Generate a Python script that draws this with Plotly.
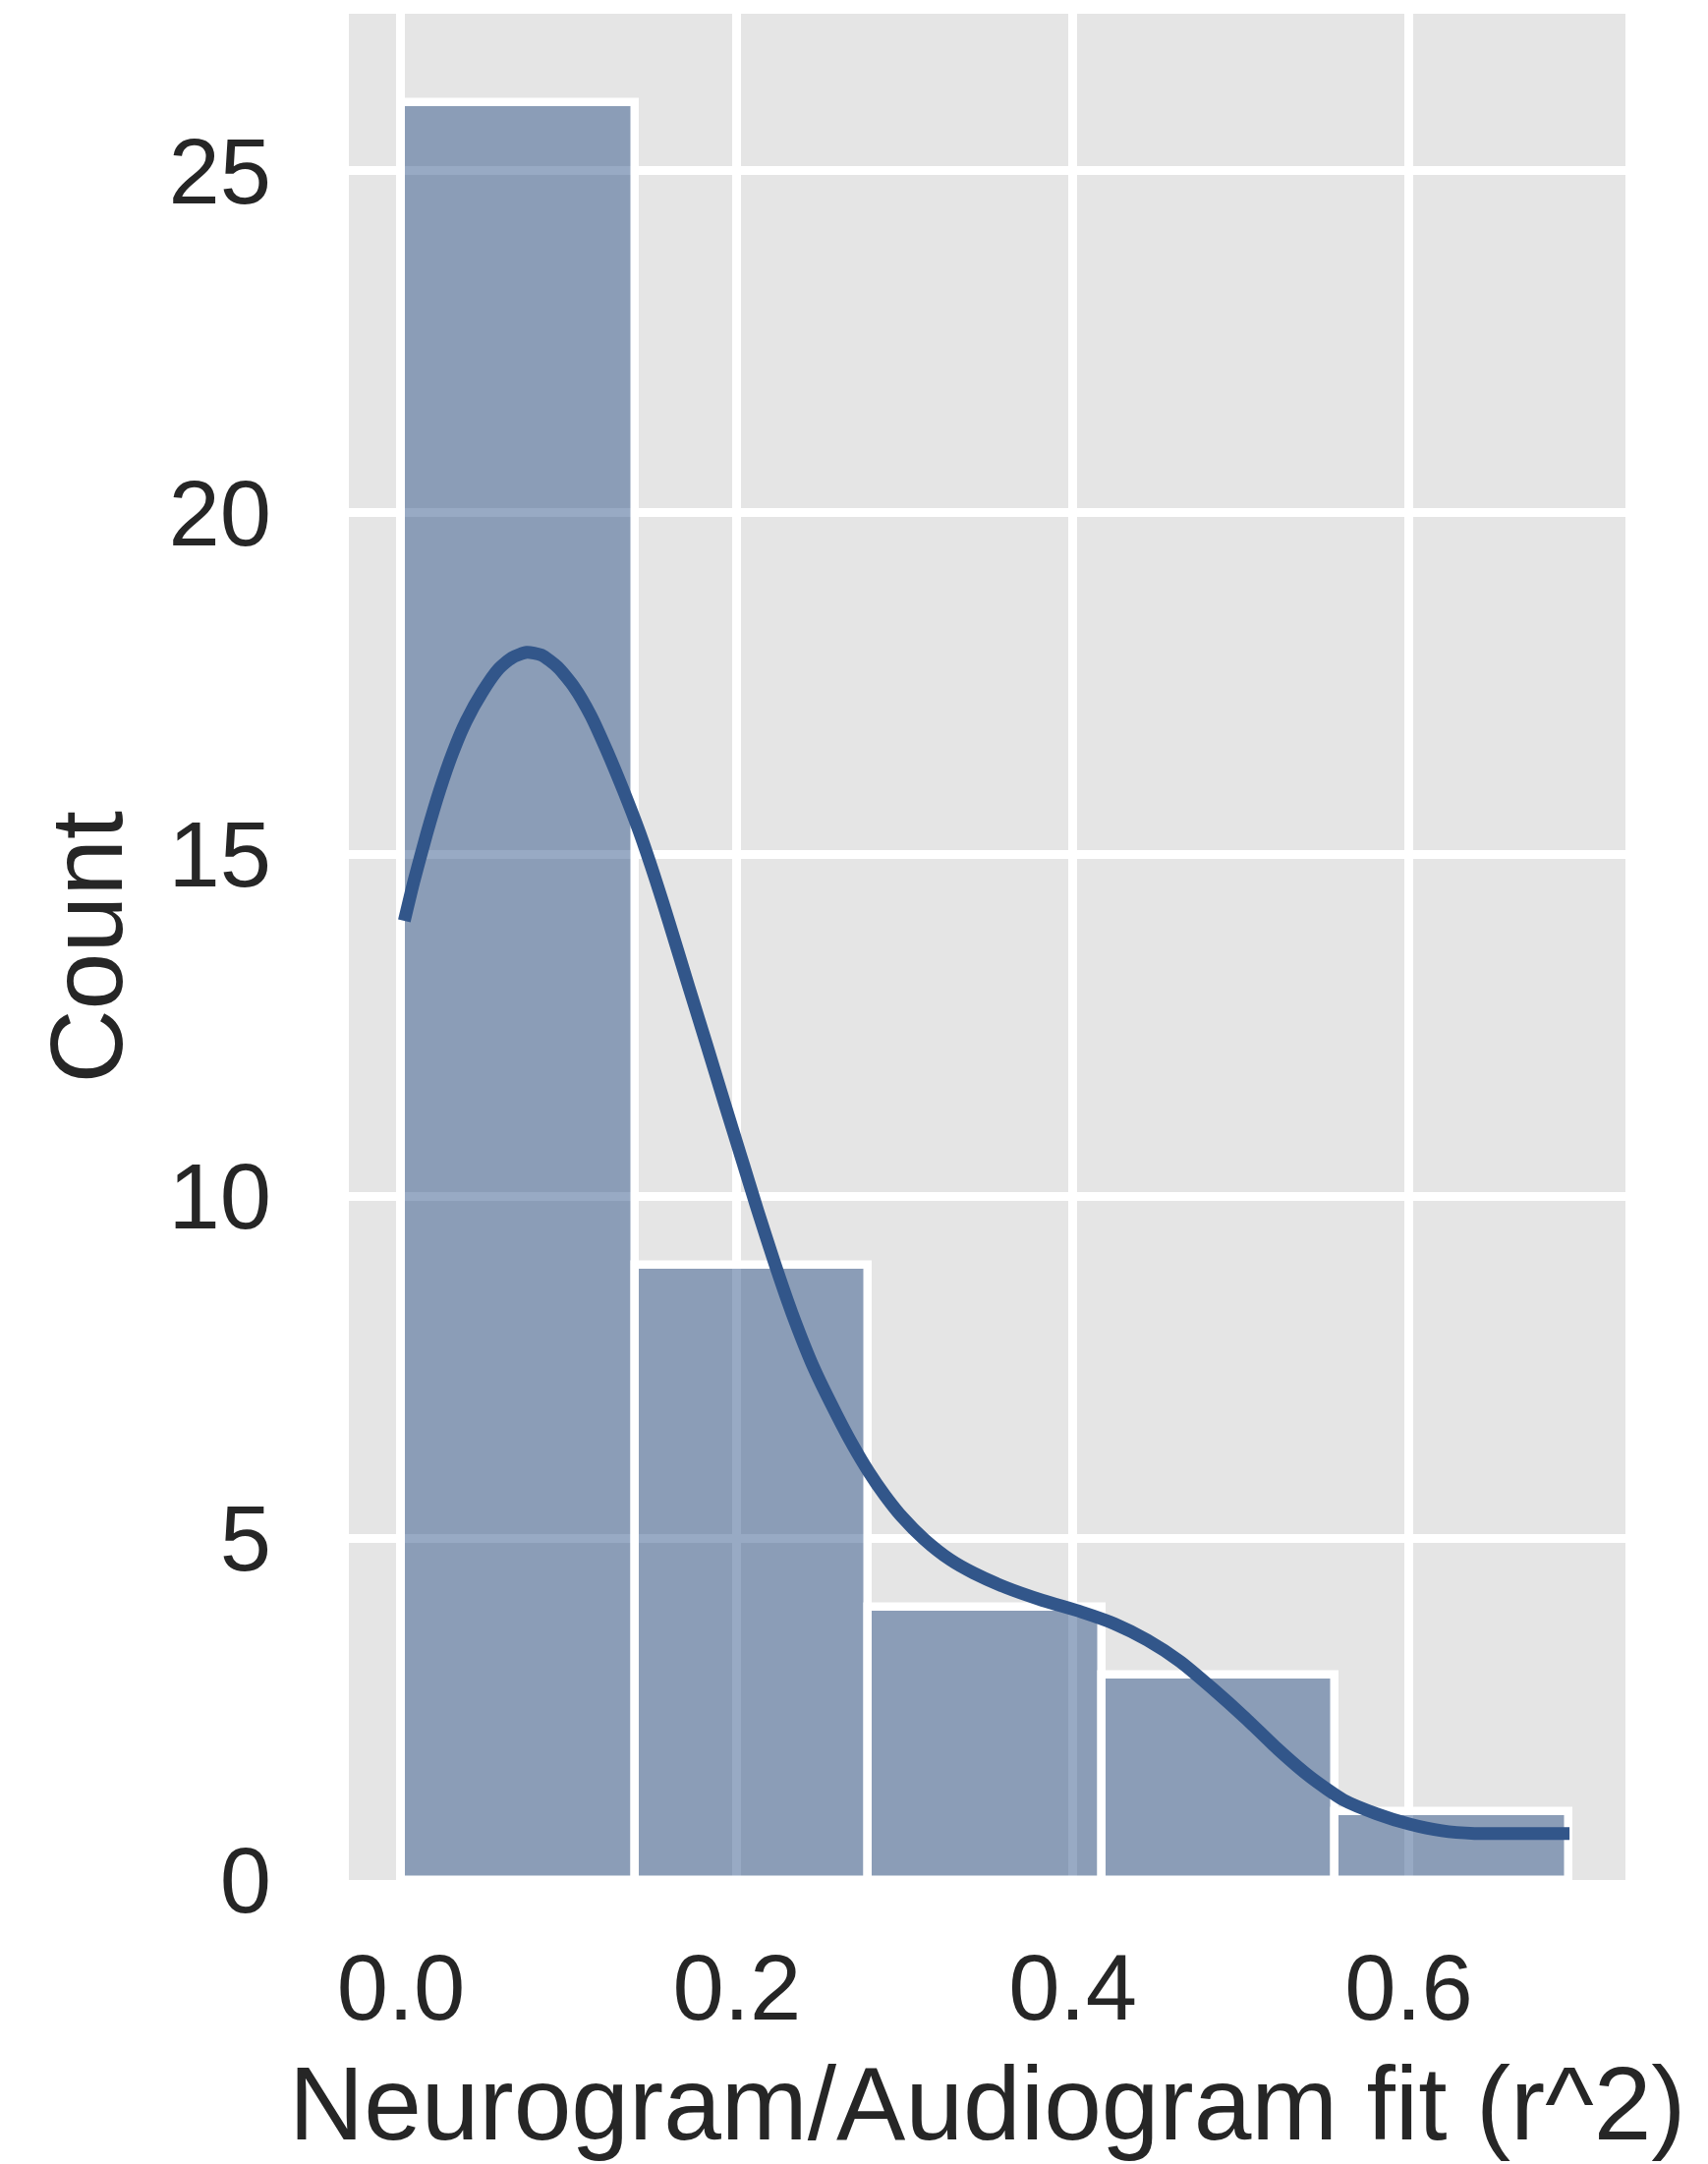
import plotly.graph_objects as go

# Histogram of neurogram/audiogram fit values (r^2)
bin_left = [0.0, 0.139, 0.278, 0.417, 0.556]
bin_width = 0.139
counts = [26, 9, 4, 3, 1]

# Kernel density estimate, scaled to counts
kde_x = [0.002, 0.0076, 0.0154, 0.0232, 0.031, 0.0388, 0.0485, 0.0583, 0.0661, 0.0749,
         0.0836, 0.0934, 0.1031, 0.1129, 0.1226, 0.1324, 0.1421, 0.1519, 0.1596, 0.1713,
         0.182, 0.1928, 0.2025, 0.2123, 0.222, 0.2327, 0.246, 0.2591, 0.2688, 0.2785,
         0.2883, 0.298, 0.3117, 0.3273, 0.3409, 0.36, 0.382, 0.4053, 0.4247, 0.4443,
         0.4637, 0.4832, 0.5027, 0.5222, 0.5417, 0.5612, 0.5807, 0.6002, 0.6197, 0.6392,
         0.6587, 0.6781, 0.6957]
kde_y = [14.03, 14.6, 15.31, 15.95, 16.5, 16.95, 17.38, 17.72, 17.88, 17.96,
         17.92, 17.74, 17.45, 17.04, 16.52, 15.94, 15.32, 14.61, 14.01, 13.07,
         12.22, 11.35, 10.58, 9.8, 9.06, 8.3, 7.48, 6.82, 6.37, 5.97,
         5.62, 5.32, 4.98, 4.68, 4.49, 4.28, 4.09, 3.92, 3.75, 3.51,
         3.2, 2.8, 2.37, 1.91, 1.5, 1.17, 0.97, 0.82, 0.72, 0.68,
         0.68, 0.68, 0.68]

x_ticks = [0.0, 0.2, 0.4, 0.6]
y_ticks = [0, 5, 10, 15, 20, 25]

x_title = "Neurogram/Audiogram fit (r^2)"
y_title = "Count"

LINE_BLUE = "#32568A"
TEXT = "#262626"
FONT = "Liberation Sans, Arial, sans-serif"

bin_centers = [b + bin_width / 2 for b in bin_left]

fig = go.Figure()
fig.add_trace(go.Bar(
    x=bin_centers,
    y=counts,
    width=[bin_width] * len(counts),
    marker=dict(color="rgba(50,86,138,0.5)", line=dict(color="white", width=8.5)),
    showlegend=False,
))
fig.add_trace(go.Scatter(
    x=kde_x,
    y=kde_y,
    mode="lines",
    line=dict(color=LINE_BLUE, width=13, shape="spline", smoothing=0.6),
    showlegend=False,
))

fig.update_layout(
    width=1738,
    height=2202,
    autosize=False,
    margin=dict(l=355, r=84, t=14, b=289, pad=0),
    paper_bgcolor="white",
    plot_bgcolor="#E5E5E5",
    bargap=0,
    font=dict(family=FONT, color=TEXT, size=94),
)
fig.update_xaxes(
    range=[-0.031, 0.729],
    tickvals=x_ticks,
    tickformat=".1f",
    showgrid=True,
    gridcolor="white",
    gridwidth=8.5,
    zeroline=False,
    showline=False,
    ticks="",
    ticklabelstandoff=47,
    tickfont=dict(size=94, family=FONT, color=TEXT),
)
fig.update_yaxes(
    range=[0, 27.3],
    tickvals=y_ticks,
    showgrid=True,
    gridcolor="white",
    gridwidth=8.5,
    zeroline=False,
    showline=False,
    ticks="",
    ticklabelstandoff=78,
    tickfont=dict(size=94, family=FONT, color=TEXT),
)

fig.add_annotation(
    text=x_title, xref="paper", yref="paper", x=0.5, y=-0.1516,
    xanchor="center", yanchor="bottom", showarrow=False,
    font=dict(size=105.5, family=FONT, color=TEXT),
)
fig.add_annotation(
    text=y_title, xref="paper", yref="paper", x=-0.2063, y=0.5,
    xanchor="center", yanchor="middle", textangle=-90, showarrow=False,
    font=dict(size=104, family=FONT, color=TEXT),
)

fig.write_html("out.html")
